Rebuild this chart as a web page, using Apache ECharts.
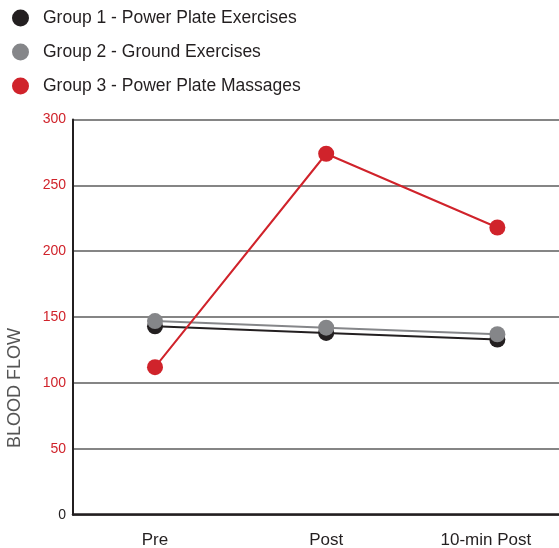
<!DOCTYPE html>
<html><head><meta charset="utf-8">
<script src="https://cdn.jsdelivr.net/npm/echarts@6/dist/echarts.min.js"></script>
<style>html,body{margin:0;padding:0;background:#fff}#c{width:559px;height:548px}</style>
</head><body><div id="c"></div>
<script>
const categories = ['Pre', 'Post', '10-min Post'];
const seriesNames = ['Group 1 - Power Plate Exercises', 'Group 2 - Ground Exercises', 'Group 3 - Power Plate Massages'];
const group1 = [143, 138, 133];
const group2 = [147, 142, 137];
const group3 = [112, 274, 218];
const yTicks = [0, 50, 100, 150, 200, 250, 300];
const colors = ['#231f20', '#858689', '#d0232b'];

const chart = echarts.init(document.getElementById('c'));
const toPts = arr => arr.map((v, i) => [i, v]);
const font = "'Liberation Sans', Arial, sans-serif";
const mk = (name, data, color, z) => ({
  name, type: 'line', data: toPts(data), z,
  symbol: 'circle', symbolSize: 16,
  lineStyle: { color, width: 2 },
  itemStyle: { color },
  emphasis: { disabled: true }, animation: false
});
chart.setOption({
  animation: false,
  textStyle: { fontFamily: font },
  legend: {
    orient: 'vertical', left: 7, top: 4, itemWidth: 17, itemHeight: 17, itemGap: 16,
    icon: 'circle',
    data: seriesNames.map((n, i) => ({ name: n, itemStyle: { color: colors[i] } })),
    textStyle: { fontSize: 17.5, color: '#231f20', fontFamily: font, padding: [0, 0, 0, 9] }
  },
  grid: { left: 73, right: 0, top: 119.5, bottom: 33.3, containLabel: false, outerBoundsMode: 'none' },
  xAxis: {
    type: 'value', min: -0.479, max: 2.36,
    splitLine: { show: false },
    axisTick: { show: false },
    axisLine: { show: true, onZero: false, lineStyle: { color: '#231f20', width: 2.5 } },
    axisLabel: {
      customValues: [0, 1, 2],
      formatter: v => {
        const i = Math.round(v);
        return i === 2 ? '{s|' + categories[i] + '}' : categories[i];
      },
      rich: { s: { fontSize: 17, color: '#231f20', fontFamily: font, padding: [0, 23, 0, 0] } },
      fontSize: 17, color: '#231f20', margin: 17, fontFamily: font
    }
  },
  yAxis: {
    type: 'value', min: yTicks[0], max: yTicks[yTicks.length - 1], interval: 50,
    axisLine: { show: true, onZero: false, lineStyle: { color: '#231f20', width: 2 } },
    axisTick: { show: false },
    splitLine: { show: true, lineStyle: { color: '#858585', width: 2 } },
    axisLabel: {
      fontSize: 14, margin: 7, fontFamily: font,
      color: (v) => (Number(v) === 0 ? '#231f20' : '#d0232b')
    }
  },
  graphic: [{
    type: 'text', x: 15, y: 388, rotation: Math.PI / 2,
    style: { text: 'BLOOD FLOW', font: "18px 'Liberation Sans', Arial, sans-serif", fill: '#555', textAlign: 'center', textVerticalAlign: 'middle' }
  }],
  series: [
    mk(seriesNames[0], group1, colors[0], 2),
    mk(seriesNames[1], group2, colors[1], 3),
    mk(seriesNames[2], group3, colors[2], 4)
  ]
});
</script></body></html>
